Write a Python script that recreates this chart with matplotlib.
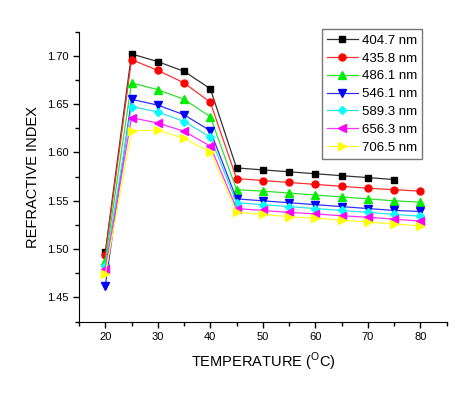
import matplotlib
matplotlib.use('Agg')
import matplotlib.pyplot as plt
from matplotlib.ticker import MultipleLocator

plt.rcParams['font.family'] = ['Liberation Sans', 'DejaVu Sans']
plt.rcParams['mathtext.fontset'] = 'custom'
plt.rcParams['mathtext.rm'] = 'Liberation Sans'

# temperatures (deg C)
temp = [20, 25, 30, 35, 40, 45, 50, 55, 60, 65, 70, 75, 80]

# refractive index per wavelength
n_404 = [1.497, 1.702, 1.694, 1.684, 1.666, 1.584, 1.582, 1.580, 1.578, 1.576, 1.574, 1.572]
n_435 = [1.494, 1.696, 1.685, 1.672, 1.652, 1.573, 1.571, 1.569, 1.567, 1.565, 1.563, 1.5615, 1.560]
n_486 = [1.488, 1.672, 1.665, 1.655, 1.637, 1.5615, 1.560, 1.558, 1.556, 1.554, 1.552, 1.550, 1.5485]
n_546 = [1.462, 1.655, 1.649, 1.639, 1.6225, 1.552, 1.550, 1.548, 1.546, 1.544, 1.542, 1.540, 1.539]
n_589 = [1.483, 1.6475, 1.642, 1.632, 1.616, 1.548, 1.546, 1.544, 1.542, 1.540, 1.538, 1.536, 1.534]
n_656 = [1.479, 1.636, 1.6305, 1.622, 1.6065, 1.542, 1.540, 1.538, 1.5365, 1.5345, 1.533, 1.531, 1.529]
n_706 = [1.474, 1.6225, 1.623, 1.6145, 1.6005, 1.538, 1.536, 1.5335, 1.532, 1.530, 1.528, 1.526, 1.524]

labels = ['404.7 nm', '435.8 nm', '486.1 nm', '546.1 nm', '589.3 nm', '656.3 nm', '706.5 nm']
series = [n_404, n_435, n_486, n_546, n_589, n_656, n_706]
line_colors = ['#333333', '#ff3030', '#30e030', '#3030ff', '#30e0e0', '#ff30ff', '#ffff30']
marker_colors = ['black', 'red', '#00ee00', 'blue', 'cyan', 'magenta', 'yellow']
markers = ['s', 'o', '^', 'v', 'D', '<', '>']
msizes = [4.5, 5, 5.5, 5.5, 4.2, 5.5, 5.5]

fig = plt.figure(figsize=(4.74, 4.01), dpi=100)
ax = fig.add_axes([0.1667, 0.198, 0.7755, 0.723])

for y, lab, lc, mc, m, ms in zip(series, labels, line_colors, marker_colors, markers, msizes):
    ax.plot(temp[:len(y)], y, color=lc, lw=0.9, marker=m, ms=ms,
            markerfacecolor=mc, markeredgecolor=mc, label=lab)

ax.set_xlim(15, 85)
ax.set_ylim(1.425, 1.725)
ax.xaxis.set_major_locator(MultipleLocator(10))
ax.xaxis.set_minor_locator(MultipleLocator(5))
ax.yaxis.set_major_locator(MultipleLocator(0.05))
ax.yaxis.set_minor_locator(MultipleLocator(0.025))
ax.yaxis.set_major_formatter(matplotlib.ticker.FormatStrFormatter('%.2f'))
ax.spines['top'].set_visible(False)
ax.spines['right'].set_visible(False)
ax.tick_params(which='both', direction='out', labelsize=8, width=1)
ax.tick_params(which='major', length=4)
ax.tick_params(which='minor', length=3)

ax.set_xlabel(r'TEMPERATURE ($^\mathrm{O}$C)', fontsize=10.5, labelpad=6)
ax.set_ylabel('REFRACTIVE INDEX', fontsize=10.5, labelpad=5)

leg = ax.legend(loc='upper left', bbox_to_anchor=(0.661, 1.008), fontsize=9.5,
                frameon=True, fancybox=False, edgecolor='#555555',
                handlelength=2.3, handletextpad=0.3, labelspacing=0.42,
                borderpad=0.4, borderaxespad=0)
leg.get_frame().set_linewidth(1)

fig.savefig('out.png', dpi=100)
